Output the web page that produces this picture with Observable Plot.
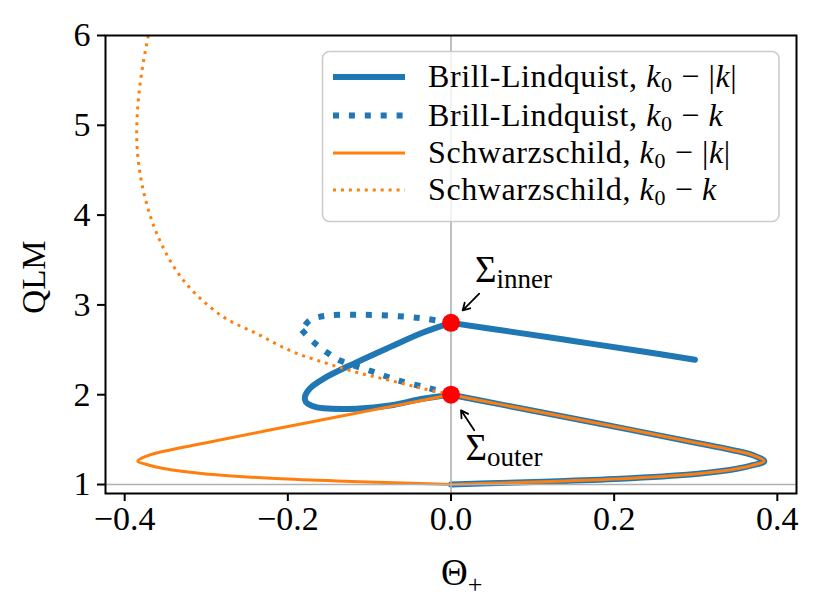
<!DOCTYPE html>
<html><head><meta charset="utf-8">
<script src="https://cdn.jsdelivr.net/npm/d3@7"></script>
<script src="https://cdn.jsdelivr.net/npm/@observablehq/plot@0.6"></script>
<style>
html,body{margin:0;padding:0;background:#fff;}
</style>
</head><body><div id="chart"></div>
<script>
// ---- data (Θ+, QLM) ----
const thetaTicks = [-0.4, -0.2, 0, 0.2, 0.4];
const qlmTicks = [1, 2, 3, 4, 5, 6];

// Brill-Lindquist, k0 - |k| (solid), three pieces
const blSolidOuterBranch = [[0.299,2.39],[0.225,2.495],[0.15,2.598],[0.075,2.70],[0,2.80]];
const blSolidInnerLoop = [[0,2.80],[-0.035,2.69],[-0.075,2.53],[-0.116,2.36],[-0.156,2.18],[-0.173,2.07],[-0.179,1.98],[-0.178,1.92],[-0.170,1.875],[-0.156,1.85],[-0.116,1.845],[-0.075,1.88],[-0.035,1.955],[0,2.0]];
const rightLoop = [[0,2.0],[0.059,1.895],[0.181,1.68],[0.303,1.46],[0.352,1.37],[0.372,1.32],[0.384,1.26],[0.370,1.215],[0.352,1.178],[0.303,1.12],[0.221,1.07],[0.14,1.04],[0.059,1.017],[0,1.0]];
// Brill-Lindquist, k0 - k (dotted)
const blDottedUpper = [[0,2.80],[-0.035,2.85],[-0.075,2.88],[-0.116,2.89],[-0.152,2.88],[-0.173,2.83],[-0.183,2.72]];
const blDottedLower = [[-0.183,2.72],[-0.169,2.59],[-0.152,2.47],[-0.136,2.38],[-0.100,2.27],[-0.065,2.16],[-0.026,2.07],[0,2.0]];
// Schwarzschild, k0 - |k| (solid) left half
const schLeftLoop = [[0,1.0],[-0.059,1.017],[-0.14,1.04],[-0.221,1.07],[-0.303,1.12],[-0.352,1.178],[-0.370,1.215],[-0.384,1.26],[-0.372,1.32],[-0.352,1.37],[-0.303,1.46],[-0.181,1.68],[-0.059,1.895],[0,2.0]];
// Schwarzschild, k0 - k (dotted)
const schDotted = [[0,2.0],[-0.035,2.07],[-0.075,2.16],[-0.116,2.25],[-0.156,2.36],[-0.197,2.49],[-0.238,2.68],[-0.278,2.86],[-0.315,3.14],[-0.338,3.40],[-0.356,3.70],[-0.369,4.00],[-0.380,4.40],[-0.385,4.80],[-0.384,5.20],[-0.379,5.60],[-0.371,6.0]];

const surfaces = [{name:"inner", theta:0, qlm:2.80}, {name:"outer", theta:0, qlm:2.0}];
const arrows = [{x1:0.0346,y1:3.125,x2:0.0143,y2:2.94},{x1:0.0285,y1:1.604,x2:0.0123,y2:1.826}];
const labels = [{name:"inner", theta:0.0300, qlm:3.245},{name:"outer", theta:0.0184, qlm:1.265}];

const legendItems = [
  {name:"Brill-Lindquist", abs:true, color:"#1f77b4", width:6, dash:null},
  {name:"Brill-Lindquist", abs:false, color:"#1f77b4", width:6, dash:"6,9.9"},
  {name:"Schwarzschild", abs:true, color:"#ff7f0e", width:3, dash:null},
  {name:"Schwarzschild", abs:false, color:"#ff7f0e", width:3, dash:"3,4.95"}
];

const BLUE = "#1f77b4", ORANGE = "#ff7f0e";
const FONT = "'Liberation Serif', 'DejaVu Serif', serif";
const rows = (arr, seg) => arr.map(([t,q]) => ({t, q, seg}));

const blSolid = [...rows(blSolidOuterBranch,"a"), ...rows(blSolidInnerLoop,"b"), ...rows(rightLoop,"c")];
const blDotted = [...rows(blDottedUpper,"a"), ...rows(blDottedLower,"b")];
const schSolid = [...rows(rightLoop,"a"), ...rows(schLeftLoop,"b")];
const schDot = rows(schDotted,"a");

const fmtX = d => (d < 0 ? "\u2212" : "") + Math.abs(d).toFixed(1);

const chart = Plot.plot({
  width: 830, height: 613,
  marginLeft: 105, marginRight: 34, marginTop: 35, marginBottom: 120,
  style: {fontFamily: FONT, fontSize: "34px", background: "white", color: "black", overflow: "visible"},
  x: {domain: [-0.4235, 0.4235]},
  y: {domain: [0.9, 6]},
  marks: [
    Plot.line(blSolid, {x:"t", y:"q", z:"seg", stroke:BLUE, strokeWidth:6, curve:"catmull-rom", strokeLinecap:"round", strokeLinejoin:"round"}),
    Plot.line(blDotted, {x:"t", y:"q", z:"seg", stroke:BLUE, strokeWidth:6, strokeDasharray:"6,9.9", curve:"catmull-rom", strokeLinecap:"butt"}),
    Plot.line(schSolid, {x:"t", y:"q", z:"seg", stroke:ORANGE, strokeWidth:3, curve:"catmull-rom", strokeLinecap:"round", strokeLinejoin:"round"}),
    Plot.line(schDot, {x:"t", y:"q", stroke:ORANGE, strokeWidth:3, strokeDasharray:"3,4.95", curve:"catmull-rom", strokeLinecap:"butt", clip:true}),
    Plot.ruleX([0], {stroke:"#b0b0b0", strokeWidth:1.6}),
    Plot.ruleY([1], {stroke:"#b0b0b0", strokeWidth:1.6}),
    Plot.dot(surfaces, {x:"theta", y:"qlm", r:9, fill:"red"}),
    Plot.arrow(arrows, {x1:"x1", y1:"y1", x2:"x2", y2:"y2", stroke:"black", strokeWidth:1.8, headLength:15, headAngle:60}),
    Plot.frame({stroke:"black", strokeWidth:2}),
    Plot.axisX(thetaTicks, {tickSize:8, tickPadding:4, tickFormat:fmtX, label:null, strokeWidth:2}),
    Plot.axisY(qlmTicks, {tickSize:8, tickPadding:7, tickFormat:d=>String(d), label:null, strokeWidth:2})
  ]
});
document.getElementById("chart").appendChild(chart);

const sx = chart.scale("x"), sy = chart.scale("y");
const svg = d3.select(chart);
svg.selectAll('g[aria-label="x-axis tick label"], g[aria-label="y-axis tick label"]')
  .attr("font-size", 34).style("font-size", "34px");

// Σ annotations
labels.forEach(l => {
  const t = svg.append("text").attr("x", sx.apply(l.theta)).attr("y", sy.apply(l.qlm))
    .attr("text-anchor","start").attr("font-family", FONT).attr("font-size", 37).attr("fill", "black");
  t.append("tspan").text("\u03A3");
  t.append("tspan").attr("font-size", 27).attr("dy", 6).text(l.name);
});

// axis labels
const xl = svg.append("text").attr("x", 441).attr("y", 585).attr("text-anchor","start")
  .attr("font-family", FONT).attr("font-size", 37);
xl.append("tspan").text("\u0398");
xl.append("tspan").attr("font-size", 26).attr("dy", 8).text("+");
svg.append("text").attr("transform","translate(45,277) rotate(-90)").attr("text-anchor","middle")
  .attr("font-family", FONT).attr("font-size", 33).text("QLM");

// legend
const lg = svg.append("g");
lg.append("rect").attr("x",322.5).attr("y",51.5).attr("width",456.5).attr("height",170).attr("rx",7)
  .attr("fill","white").attr("fill-opacity",0.8).attr("stroke","#cccccc").attr("stroke-width",1.6);
const rowY = [77, 115.5, 153, 190];
legendItems.forEach((it, i) => {
  const y = rowY[i];
  lg.append("line").attr("x1",333).attr("x2",405).attr("y1",y).attr("y2",y)
    .attr("stroke",it.color).attr("stroke-width",it.width).attr("stroke-dasharray",it.dash);
  const t = lg.append("text").attr("x",428).attr("y",y+10).attr("text-anchor","start")
    .attr("font-family",FONT).attr("font-size",32).attr("letter-spacing","0.6px");
  t.append("tspan").text(it.name + ", ");
  t.append("tspan").attr("font-style","italic").text("k");
  t.append("tspan").attr("font-size",22).attr("dy",5).text("0");
  t.append("tspan").attr("dy",-5).text(it.abs ? " \u2212 |" : " \u2212 ");
  t.append("tspan").attr("font-style","italic").text("k");
  if (it.abs) t.append("tspan").text("|");
});
</script>
</body></html>
